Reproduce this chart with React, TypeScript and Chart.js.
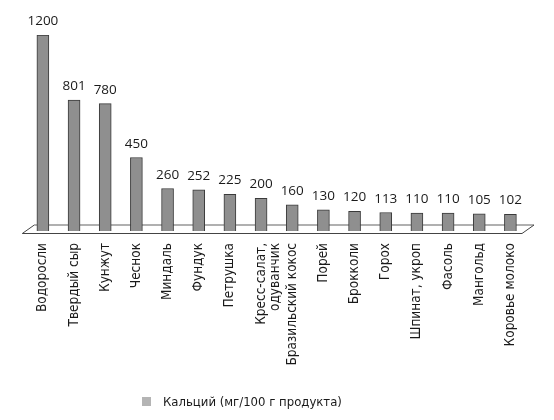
import React, { useEffect, useRef } from 'react';
import Chart from 'chart.js/auto';

const categories: (string | string[])[] = [
    'Водоросли', 'Твердый сыр', 'Кунжут', 'Чеснок', 'Миндаль', 'Фундук', 'Петрушка',
    ['Кресс-салат,', 'одуванчик'], 'Бразильский кокос', 'Порей', 'Брокколи', 'Горох',
    'Шпинат, укроп', 'Фасоль', 'Мангольд', 'Коровье молоко',
];
const calcium = [1200, 801, 780, 450, 260, 252, 225, 200, 160, 130, 120, 113, 110, 110, 105, 102];
const seriesLabel = 'Кальций (мг/100 г продукта)';

const labelFont = '"DejaVu Sans Condensed", "DejaVu Sans", sans-serif';

// floor under the bars, drawn like a flat 3D plate
const floorPlugin = {
    id: 'floor',
    beforeDatasetsDraw(chart: Chart) {
        const { ctx, chartArea: a } = chart;
        const fl = a.left - 5, fr = a.right - 4, y = a.bottom + 2.5;
        const dx = 12, dy = 8.5;
        ctx.save();
        ctx.fillStyle = '#ffffff';
        ctx.beginPath();
        ctx.moveTo(fl, y);
        ctx.lineTo(fl + dx, y - dy);
        ctx.lineTo(fr + dx, y - dy);
        ctx.lineTo(fr, y);
        ctx.closePath();
        ctx.fill();
        ctx.strokeStyle = '#b0b0b0';
        ctx.lineWidth = 2;
        ctx.beginPath();
        ctx.moveTo(fl + dx, y - dy);
        ctx.lineTo(fr + dx, y - dy);
        ctx.stroke();
        ctx.strokeStyle = '#444444';
        ctx.lineWidth = 1;
        ctx.beginPath();
        ctx.moveTo(fl + dx, y - dy);
        ctx.lineTo(fl, y);
        ctx.lineTo(fr, y);
        ctx.lineTo(fr + dx, y - dy);
        ctx.stroke();
        ctx.restore();
    },
};

// numbers above the bars
const valueLabels = {
    id: 'valueLabels',
    afterDatasetsDraw(chart: Chart) {
        const { ctx } = chart;
        const meta = chart.getDatasetMeta(0);
        ctx.save();
        ctx.font = '13.5px "Open Sans", sans-serif';
        ctx.fillStyle = '#1a1a1a';
        ctx.textAlign = 'center';
        ctx.textBaseline = 'alphabetic';
        meta.data.forEach((bar, i) => {
            ctx.fillText(String(calcium[i]), bar.x, bar.y - 10);
        });
        ctx.restore();
    },
};

export default function App() {
    const canvasRef = useRef<HTMLCanvasElement>(null);
    const chartRef = useRef<Chart | null>(null);

    useEffect(() => {
        document.body.style.margin = '0';
        if (!canvasRef.current) return;
        if (chartRef.current) chartRef.current.destroy();

        chartRef.current = new Chart(canvasRef.current, {
            type: 'bar',
            data: {
                labels: categories,
                datasets: [{
                    label: seriesLabel,
                    data: calcium,
                    backgroundColor: '#8f8f8f',
                    borderColor: '#3a3a3a',
                    borderWidth: 1,
                    barThickness: 12,
                }],
            },
            options: {
                responsive: false,
                animation: false,
                layout: { padding: { top: 35, left: 27.3, right: 28, bottom: 0 } },
                plugins: {
                    legend: { display: false },
                    tooltip: { enabled: false },
                },
                scales: {
                    x: {
                        offset: true,
                        grid: { display: false, drawTicks: false },
                        border: { display: false },
                        ticks: {
                            autoSkip: false,
                            maxRotation: 90,
                            minRotation: 90,
                            padding: 12,
                            color: '#1a1a1a',
                            font: { family: labelFont, size: 13.5, lineHeight: 1.1 },
                        },
                        afterFit: (scale) => { scale.height = 189; },
                    },
                    y: {
                        display: false,
                        min: 0,
                        max: 1200,
                    },
                },
            },
            plugins: [floorPlugin, valueLabels],
        });

        return () => {
            if (chartRef.current) chartRef.current.destroy();
            chartRef.current = null;
        };
    }, []);

    return (
        <div style={{ position: 'relative', width: 554, height: 420 }}>
            <canvas ref={canvasRef} width={554} height={420} style={{ display: 'block' }}></canvas>
            <div style={{
                position: 'absolute', left: 142, top: 394, display: 'flex', alignItems: 'center',
                fontFamily: labelFont, fontSize: 13, color: '#1a1a1a',
            }}>
                <span style={{ width: 9, height: 9, background: '#b4b4b4', display: 'inline-block', marginRight: 12 }}></span>
                <span>{seriesLabel}</span>
            </div>
        </div>
    );
}
